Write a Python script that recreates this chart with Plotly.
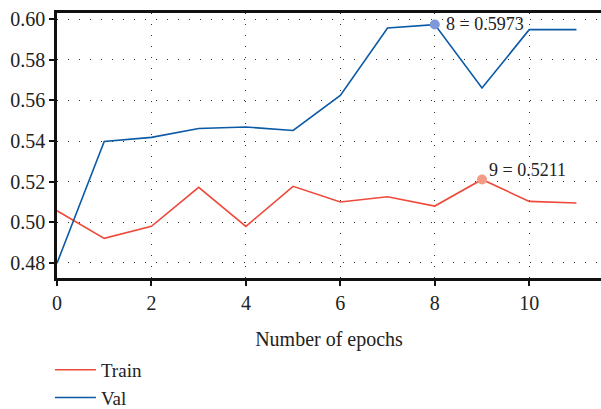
import plotly.graph_objects as go

epochs = list(range(12))
train_acc = [0.5057, 0.4921, 0.4980, 0.5172, 0.4980, 0.5177, 0.5100, 0.5126, 0.5080, 0.5211, 0.5103, 0.5095]
val_acc = [0.4799, 0.5398, 0.5418, 0.5462, 0.5469, 0.5452, 0.5624, 0.5956, 0.5973, 0.5661, 0.5948, 0.5948]
series_names = ["Train", "Val"]
x_ticks = [0, 2, 4, 6, 8, 10]
y_ticks = [0.48, 0.50, 0.52, 0.54, 0.56, 0.58, 0.60]

RED = "#ee4a3b"
BLUE = "#0b5aa6"
FONT = "Times New Roman, Liberation Serif, DejaVu Serif, serif"

fig = go.Figure()
fig.add_trace(go.Scatter(x=epochs, y=train_acc, mode="lines", name=series_names[0],
                         line=dict(color=RED, width=1.6)))
fig.add_trace(go.Scatter(x=epochs, y=val_acc, mode="lines", name=series_names[1],
                         line=dict(color=BLUE, width=1.6)))

# max markers
i_tr = max(range(len(train_acc)), key=lambda i: train_acc[i])
i_va = max(range(len(val_acc)), key=lambda i: val_acc[i])
fig.add_trace(go.Scatter(x=[epochs[i_va]], y=[val_acc[i_va]], mode="markers", showlegend=False,
                         marker=dict(color="#7d97d8", size=10), hoverinfo="skip"))
fig.add_trace(go.Scatter(x=[epochs[i_tr]], y=[train_acc[i_tr]], mode="markers", showlegend=False,
                         marker=dict(color="#f59a86", size=10), hoverinfo="skip"))

fig.add_annotation(x=epochs[i_va], y=val_acc[i_va], text=f"{epochs[i_va]} = {val_acc[i_va]:.4f}",
                   showarrow=False, xanchor="left", yanchor="middle", xshift=9, yshift=1,
                   font=dict(family=FONT, size=18, color="#222"))
fig.add_annotation(x=epochs[i_tr], y=train_acc[i_tr], text=f"{epochs[i_tr]} = {train_acc[i_tr]:.4f}",
                   showarrow=False, xanchor="left", yanchor="middle", xshift=5, yshift=9,
                   font=dict(family=FONT, size=18, color="#222"))

fig.update_layout(
    width=601, height=409,
    margin=dict(l=57, r=0, t=13, b=131, autoexpand=False),
    paper_bgcolor="white", plot_bgcolor="white",
    font=dict(family=FONT, size=20, color="#222"),
    showlegend=True,
    legend=dict(x=-0.013, y=-0.275, xanchor="left", yanchor="top", orientation="v",
                font=dict(family=FONT, size=19, color="#222"),
                tracegroupgap=0, itemwidth=41, bgcolor="rgba(0,0,0,0)"),
    xaxis=dict(range=[0, 11.52], tickvals=x_ticks, showline=True, linecolor="#111", linewidth=2.5,
               mirror=True, ticks="outside", ticklen=5, tickwidth=2, tickcolor="#111", automargin=False,
               showgrid=True, gridcolor="#333", gridwidth=1, griddash="1px,10px",
               zeroline=False, title=dict(text="Number of epochs", font=dict(family=FONT, size=20), standoff=20),
               tickfont=dict(family=FONT, size=20, color="#222")),
    yaxis=dict(range=[0.4726, 0.603], tickvals=y_ticks, tickformat=".2f", showline=True, automargin=False,
               linecolor="#111", linewidth=2.5, mirror=False, ticks="outside", ticklen=5, tickwidth=2,
               tickcolor="#111", showgrid=True, gridcolor="#333", gridwidth=1, griddash="1px,10px",
               zeroline=False, tickfont=dict(family=FONT, size=20, color="#222")),
)

fig.write_html("out.html", config={"displayModeBar": False},
               post_script="document.body.style.margin='0';document.body.style.overflow='hidden';")
